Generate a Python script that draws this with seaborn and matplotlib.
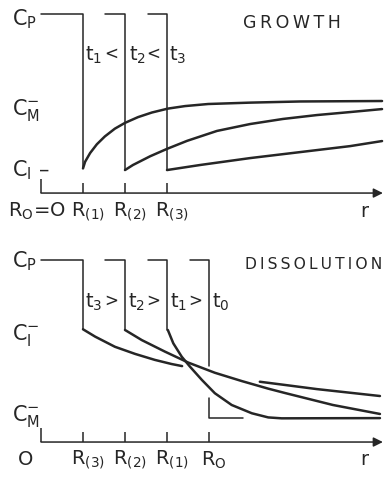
import numpy as np
import pandas as pd
import matplotlib
matplotlib.use('Agg')
import matplotlib.pyplot as plt
import seaborn as sns

# ── Data (r in units of the R spacing, c in arbitrary concentration units) ──
# GROWTH panel
g_levels = {'C_P': 7.8, 'C_M': 4.0, 'C_I': 1.0}
g_ticks = [0, 1, 2, 3]
g_tick_labels = [r'$R_O$=O', r'$R_{(1)}$', r'$R_{(2)}$', r'$R_{(3)}$']
g_step_left = [0.0, 1.52, 2.55]          # where each top C_P segment starts
g_step_right = [1, 2, 3]                 # interface positions R(1..3)
g_time_labels = [r'$t_1$', r'$t_2$', r'$t_3$']
g_relations = ['<', '<']

g_r1 = [1.0, 1.05, 1.17, 1.33, 1.52, 1.76, 2.0, 2.31, 2.64, 3.02, 3.43,
        3.98, 4.98, 6.17, 8.12]
g_c1 = [1.07, 1.36, 1.74, 2.12, 2.46, 2.80, 3.05, 3.30, 3.50, 3.67, 3.78,
        3.87, 3.93, 3.98, 4.00]
g_r2 = [2.0, 2.19, 2.6, 3.0, 3.48, 4.19, 4.98, 5.76, 6.57, 7.36, 8.12]
g_c2 = [1.00, 1.22, 1.60, 1.92, 2.27, 2.70, 3.00, 3.22, 3.39, 3.52, 3.65]
g_r3 = [3.0, 3.79, 4.98, 6.17, 7.36, 8.12]
g_c3 = [1.00, 1.22, 1.52, 1.78, 2.04, 2.26]

# DISSOLUTION panel
d_levels = {'C_P': 7.9, 'C_I': 4.95, 'C_M': 1.04}
d_ticks = [1, 2, 3, 4]
d_tick_labels = [r'$R_{(3)}$', r'$R_{(2)}$', r'$R_{(1)}$', r'$R_O$']
d_step_left = [0.0, 1.52, 2.55, 3.55]
d_step_right = [1, 2, 3, 4]
d_time_labels = [r'$t_3$', r'$t_2$', r'$t_1$', r'$t_0$']
d_relations = ['>', '>', '>']
d_r0_gap = (3.3, 1.9)                    # the R0 line is broken where curves cross
d_r0_end = 4.81

d_r3a = [1.0, 1.29, 1.76, 2.24, 2.71, 3.11, 3.36]
d_c3a = [4.90, 4.58, 4.14, 3.83, 3.57, 3.39, 3.30]
d_r3b = [5.21, 5.81, 6.57, 8.07]
d_c3b = [2.62, 2.48, 2.30, 2.00]
d_r2 = [2.0, 2.40, 2.95, 3.51, 4.14, 4.78, 5.41, 5.81, 6.95, 8.07]
d_c2 = [4.87, 4.43, 3.93, 3.45, 3.01, 2.65, 2.32, 2.13, 1.61, 1.22]
d_r1 = [3.02, 3.15, 3.35, 3.55, 3.83, 4.14, 4.54, 5.02, 5.41, 5.73, 8.07]
d_c1 = [4.87, 4.29, 3.71, 3.27, 2.70, 2.12, 1.61, 1.25, 1.07, 1.03, 1.04]

# ── Style ────────────────────────────────────────────────────────────────────
sns.set_theme(style='white')
plt.rcParams['font.family'] = ['DejaVu Sans']
plt.rcParams['mathtext.default'] = 'regular'
INK = '#262626'

fig = plt.figure(figsize=(3.87, 4.8), dpi=100)
fig.patch.set_facecolor('white')
ax_g = fig.add_axes([0, 0.5, 1, 0.5])
ax_d = fig.add_axes([0, 0, 1, 0.5])
for ax in (ax_g, ax_d):
    ax.set_xlim(-0.976, 8.238)
    ax.axis('off')
ax_g.set_ylim(-2.04, 8.39)
ax_d.set_ylim(-1.65, 8.78)


def curve(ax, r, c):
    sns.lineplot(x=r, y=c, ax=ax, sort=False, estimator=None,
                 color=INK, lw=1.8)


def axis_with_ticks(ax, ticks):
    ax.annotate('', xy=(8.14, 0), xytext=(0, 0),
                arrowprops=dict(arrowstyle='-|>', lw=1.1, color=INK,
                                mutation_scale=14, shrinkA=0, shrinkB=0))
    ax.vlines(0, 0, 0.6, color=INK, lw=1.1)
    ax.vlines(ticks, 0, 0.43, color=INK, lw=1.1)


def time_labels(ax, y, t_x, labels, rel_x, rels):
    for x, lab in zip(t_x, labels):
        ax.text(x, y, lab, fontsize=14, color=INK, va='center')
    for x, rel in zip(rel_x, rels):
        ax.text(x, y + 0.05, rel, fontsize=12, color=INK, va='center')


# ── GROWTH ───────────────────────────────────────────────────────────────────
ax = ax_g
axis_with_ticks(ax, [t for t in g_ticks if t > 0])
starts = [g_c1[0], g_c2[0], g_c3[0]]
for left, right, bottom in zip(g_step_left, g_step_right, starts):
    ax.plot([left, right, right], [g_levels['C_P']] * 2 + [bottom],
            color=INK, lw=1.1)
curve(ax, g_r1, g_c1)
curve(ax, g_r2, g_c2)
curve(ax, g_r3, g_c3)

ax.text(-0.69, 7.57, r'$C_P$', fontsize=15, color=INK, va='center')
ax.text(-0.69, 3.6, r'$C_M^{-}$', fontsize=15, color=INK, va='center')
ax.text(-0.69, 1.0, r'$C_I$ –', fontsize=15, color=INK, va='center')
for x, lab in zip(g_ticks, g_tick_labels):
    ax.text(x + (-0.1 if x == 0 else 0.12), -0.8, lab, fontsize=14,
            color=INK, ha='center', va='center')
ax.text(7.7, -0.8, 'r', fontsize=14, color=INK, ha='center', va='center')
time_labels(ax, 6.0, [1.05, 2.1, 3.05], g_time_labels, [1.5, 2.5], g_relations)
ax.text(4.81, 7.39, '\u2009'.join('GROWTH'), fontsize=12.5, color=INK,
        va='center')

# ── DISSOLUTION ──────────────────────────────────────────────────────────────
ax = ax_d
axis_with_ticks(ax, d_ticks)
starts = [d_c3a[0], d_c2[0], d_c1[0], d_r0_gap[0]]
for left, right, bottom in zip(d_step_left, d_step_right, starts):
    ax.plot([left, right, right], [d_levels['C_P']] * 2 + [bottom],
            color=INK, lw=1.1)
ax.plot([d_step_right[-1], d_step_right[-1], d_r0_end],
        [d_r0_gap[1], d_levels['C_M'], d_levels['C_M']], color=INK, lw=1.1)
curve(ax, d_r3a, d_c3a)
curve(ax, d_r3b, d_c3b)
curve(ax, d_r2, d_c2)
curve(ax, d_r1, d_c1)

ax.text(-0.69, 7.87, r'$C_P$', fontsize=15, color=INK, va='center')
ax.text(-0.69, 4.65, r'$C_I^{-}$', fontsize=15, color=INK, va='center')
ax.text(-0.69, 1.13, r'$C_M^{-}$', fontsize=15, color=INK, va='center')
ax.text(-0.36, -0.78, 'O', fontsize=14, color=INK, ha='center', va='center')
for x, lab in zip(d_ticks, d_tick_labels):
    ax.text(x + 0.12, -0.78, lab, fontsize=14, color=INK,
            ha='center', va='center')
ax.text(7.7, -0.78, 'r', fontsize=14, color=INK, ha='center', va='center')
time_labels(ax, 6.09, [1.05, 2.07, 3.07, 4.08], d_time_labels,
            [1.5, 2.5, 3.5], d_relations)
ax.text(4.86, 7.7, '\u2009'.join('DISSOLUTION'), fontsize=11.2, color=INK,
        va='center')

fig.savefig('out.png', dpi=100, facecolor='white')
